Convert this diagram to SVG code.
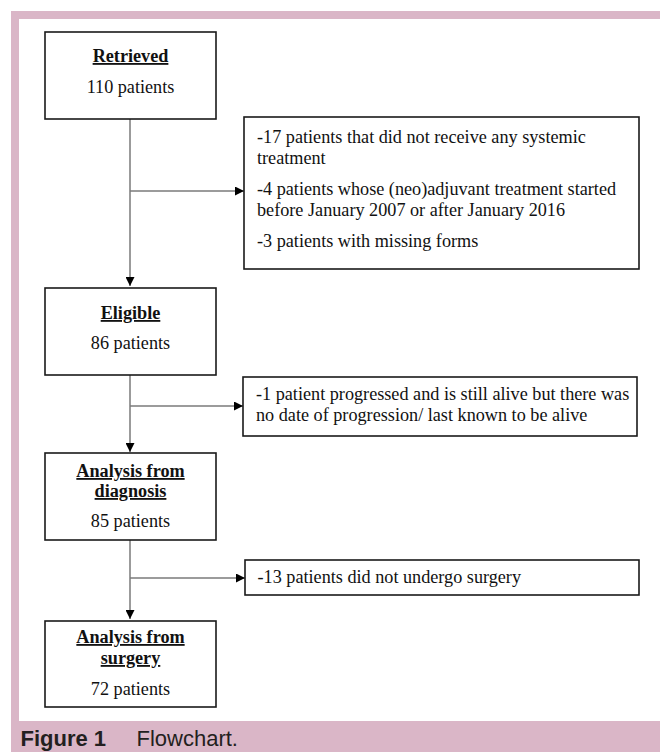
<svg xmlns="http://www.w3.org/2000/svg" width="660" height="752" viewBox="0 0 660 752">
<defs>
<style>
.box{fill:#fff;stroke:#1a1a1a;stroke-width:1.6}
.t{font-family:"Liberation Serif","Times New Roman",serif;font-size:18.2px;fill:#111}
.c{text-anchor:middle}
.h{font-weight:bold;text-decoration:underline}
.ln{stroke:#7a7a7a;stroke-width:1.5;fill:none}
.cap{font-family:"Liberation Sans",Arial,sans-serif;font-size:22px;fill:#231f20}
</style>
<marker id="ah" viewBox="0 0 10 10" refX="10" refY="5" markerWidth="10" markerHeight="9" markerUnits="userSpaceOnUse" orient="auto">
<path d="M0,0 L10,5 L0,10 Z" fill="#000"/>
</marker>
</defs>
<rect x="0" y="0" width="660" height="752" fill="#fff"/>
<rect x="11" y="11" width="649" height="741" fill="#dab6c7"/>
<rect x="19" y="19" width="641" height="702" fill="#fff"/>

<g id="connectors">
<line class="ln" x1="130" y1="119" x2="130" y2="286" marker-end="url(#ah)"/>
<line class="ln" x1="130" y1="191" x2="244" y2="191" marker-end="url(#ah)"/>
<line class="ln" x1="130" y1="375" x2="130" y2="452" marker-end="url(#ah)"/>
<line class="ln" x1="130" y1="406" x2="243" y2="406" marker-end="url(#ah)"/>
<line class="ln" x1="130" y1="540" x2="130" y2="619" marker-end="url(#ah)"/>
<line class="ln" x1="130" y1="578" x2="245" y2="578" marker-end="url(#ah)"/>
</g>

<g id="retrieved">
<rect class="box" x="45" y="32" width="171" height="87"/>
<text class="t c h" x="130.5" y="62">Retrieved</text>
<text class="t c" x="130.5" y="93">110 patients</text>
</g>

<g id="excl1">
<rect class="box" x="244" y="117" width="395" height="152"/>
<text class="t" x="257" y="143">-17 patients that did not receive any systemic</text>
<text class="t" x="257" y="164">treatment</text>
<text class="t" x="257" y="195">-4 patients whose (neo)adjuvant treatment started</text>
<text class="t" x="257" y="216">before January 2007 or after January 2016</text>
<text class="t" x="257" y="247">-3 patients with missing forms</text>
</g>

<g id="eligible">
<rect class="box" x="45" y="288" width="171" height="87"/>
<text class="t c h" x="130.5" y="319">Eligible</text>
<text class="t c" x="130.5" y="349">86 patients</text>
</g>

<g id="excl2">
<rect class="box" x="243" y="377" width="394" height="59"/>
<text class="t" x="256" y="400">-1 patient progressed and is still alive but there was</text>
<text class="t" x="256" y="421">no date of progression/ last known to be alive</text>
</g>

<g id="diagnosis">
<rect class="box" x="45" y="453" width="171" height="87"/>
<text class="t c h" x="130.5" y="477">Analysis from</text>
<text class="t c h" x="130.5" y="497">diagnosis</text>
<text class="t c" x="130.5" y="527">85 patients</text>
</g>

<g id="excl3">
<rect class="box" x="245" y="560" width="394" height="35"/>
<text class="t" x="257.5" y="583">-13 patients did not undergo surgery</text>
</g>

<g id="surgery">
<rect class="box" x="45" y="621" width="171" height="86"/>
<text class="t c h" x="130.5" y="643">Analysis from</text>
<text class="t c h" x="130.5" y="664">surgery</text>
<text class="t c" x="130.5" y="695">72 patients</text>
</g>

<g id="caption">
<text class="cap" x="20.5" y="746" font-weight="bold">Figure 1</text>
<text class="cap" x="136.5" y="746">Flowchart.</text>
</g>
</svg>
